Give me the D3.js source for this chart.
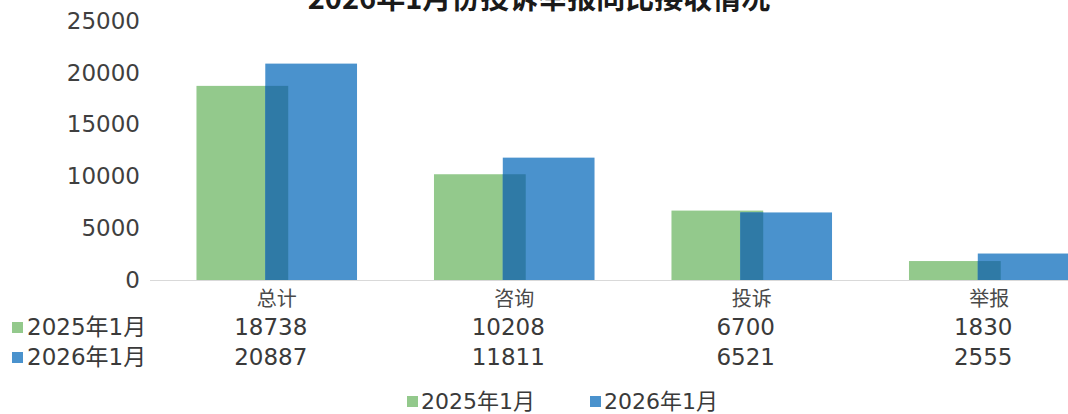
<!DOCTYPE html>
<html>
<head>
<meta charset="utf-8">
<script src="https://cdn.jsdelivr.net/npm/d3@7"></script>
<style>
  html, body { margin: 0; padding: 0; background: #fff; overflow: hidden; }
  svg { display: block; }
  text { font-family: "DejaVu Sans", "Noto Sans CJK SC", sans-serif; fill: #3a3a3a; }
  .cjk { font-family: "Noto Sans CJK SC", sans-serif; }
</style>
</head>
<body>
<svg id="chart" width="1068" height="414"></svg>
<script>
// Complaint / report intake, January year-over-year
const categories = ["总计", "咨询", "投诉", "举报"];
const seriesNames = ["2025年1月", "2026年1月"];
const values2025 = [18738, 10208, 6700, 1830];
const values2026 = [20887, 11811, 6521, 2555];
const yTicks = [0, 5000, 10000, 15000, 20000, 25000];
const title = "2026年1月份投诉举报同比接收情况";

const colors = { y2025: "#93c98c", y2026: "#4a92cd", overlap: "#2f7aa6" };

const svg = d3.select("#chart");

const y = d3.scaleLinear().domain([0, 25000]).range([280, 21]);
const x = d3.scaleBand().domain(categories).range([158, 1108])
  .paddingInner(0.324).paddingOuter(0.162);

// overlapping bars: each bar is group/(2 - overlap) wide, 25% overlap
const overlap = 0.25;
const barW = x.bandwidth() / (2 - overlap);
const shift = barW * (1 - overlap);

const rows = categories.map((c, i) => ({ c, a: values2025[i], b: values2026[i] }));

// title (runs off the top edge)
svg.append("text")
  .attr("x", 539).attr("y", 9)
  .attr("text-anchor", "middle")
  .attr("font-size", 29).attr("font-weight", "bold")
  .style("fill", "#1a1a1a")
  .attr("class", "cjk")
  .text(title);

// y axis labels
const yAxis = svg.append("g").attr("transform", "translate(150,0)")
  .call(d3.axisLeft(y).tickValues(yTicks).tickSize(0).tickPadding(10).tickFormat(d3.format("d")));
yAxis.select(".domain").remove();
yAxis.selectAll("text").attr("font-size", 23).attr("font-family", "DejaVu Sans").style("fill", "#3f3f3f");

// bars
const g = svg.append("g");
g.selectAll("rect.a").data(rows).join("rect").attr("class", "a")
  .attr("x", d => x(d.c)).attr("width", barW)
  .attr("y", d => y(d.a)).attr("height", d => y(0) - y(d.a))
  .attr("fill", colors.y2025);
g.selectAll("rect.b").data(rows).join("rect").attr("class", "b")
  .attr("x", d => x(d.c) + shift).attr("width", barW)
  .attr("y", d => y(d.b)).attr("height", d => y(0) - y(d.b))
  .attr("fill", colors.y2026);
g.selectAll("rect.o").data(rows).join("rect").attr("class", "o")
  .attr("x", d => x(d.c) + shift).attr("width", barW - shift)
  .attr("y", d => y(Math.min(d.a, d.b))).attr("height", d => y(0) - y(Math.min(d.a, d.b)))
  .attr("fill", colors.overlap);

// category axis
const xAxis = svg.append("g").attr("transform", `translate(0,${y(0)})`)
  .call(d3.axisBottom(x).tickSize(0).tickPadding(12));
xAxis.select(".domain").attr("stroke", "#d9d9d9").attr("stroke-width", 1.2)
  .attr("d", `M150,0.5H1068`);
xAxis.selectAll("text").attr("font-size", 20).attr("font-family", "Noto Sans CJK SC")
  .style("fill", "#4a4a4a");

// data table rows
const tableRows = [
  { name: seriesNames[0], vals: values2025, color: colors.y2025, cy: 327 },
  { name: seriesNames[1], vals: values2026, color: colors.y2026, cy: 357 }
];
tableRows.forEach(r => {
  svg.append("rect").attr("x", 12).attr("y", r.cy - 5).attr("width", 11).attr("height", 11)
    .attr("fill", r.color);
  svg.append("text").attr("x", 27).attr("y", r.cy).attr("dominant-baseline", "central")
    .attr("font-size", 23).style("fill", "#3a3a3a").text(r.name);
  svg.append("g").selectAll("text").data(r.vals).join("text")
    .attr("x", (d, i) => x(categories[i]) + x.bandwidth() / 2 - 6)
    .attr("y", r.cy).attr("dominant-baseline", "central")
    .attr("text-anchor", "middle").attr("font-size", 23)
    .style("fill", "#3a3a3a")
    .text(d => d);
});

// legend
const legend = svg.append("g");
const legendItems = [
  { name: seriesNames[0], color: colors.y2025, x: 407 },
  { name: seriesNames[1], color: colors.y2026, x: 590 }
];
legendItems.forEach(l => {
  legend.append("rect").attr("x", l.x).attr("y", 396).attr("width", 11).attr("height", 11).attr("fill", l.color);
  legend.append("text").attr("x", l.x + 14).attr("y", 401).attr("dominant-baseline", "central")
    .attr("font-size", 22).style("fill", "#3a3a3a").text(l.name);
});
</script>
</body>
</html>
